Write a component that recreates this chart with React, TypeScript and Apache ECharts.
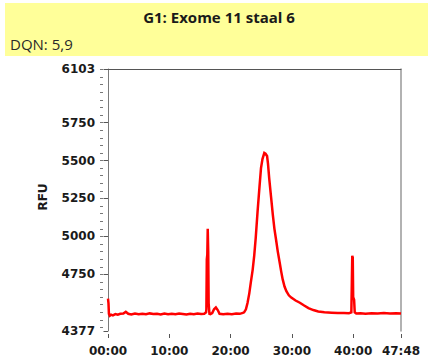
import React, { useEffect, useRef } from "react";
import * as echarts from "echarts";

// Electropherogram trace: run time (minutes) vs. fluorescence (RFU)
const timeMin: number[] = [
  0.0, 0.08, 0.15, 0.3, 0.5, 0.8, 1.2, 1.6, 2.0, 2.5, 2.9, 3.3, 3.8, 4.4, 5.0, 5.6, 6.2, 6.8,
  7.4, 8.0, 8.6, 9.2, 9.8, 10.4, 11.0, 11.6, 12.2, 12.8, 13.4, 14.0, 14.6, 15.2, 15.7, 16.0,
  16.05, 16.12, 16.2, 16.27, 16.35, 16.42, 16.55, 16.7, 17.0, 17.3, 17.6, 17.9, 18.2, 18.8,
  19.5, 20.2, 20.9, 21.5, 22.0, 22.2, 22.5, 22.76, 23.05, 23.3, 23.6, 23.85, 24.1, 24.4, 24.7,
  24.96, 25.2, 25.5, 25.7, 25.95, 26.1, 26.3, 26.6, 26.9, 27.15, 27.4, 27.7, 28.0, 28.25, 28.5,
  28.8, 29.1, 29.5, 29.9, 30.6, 31.3, 32.0, 32.7, 33.5, 34.3, 35.3, 36.5, 37.5, 38.5, 39.3,
  39.7, 39.78, 39.85, 39.93, 40.0, 40.15, 40.25, 40.5, 41.2, 42.0, 43.0, 44.0, 45.0, 46.0,
  47.0, 47.8,
];

const rfu: number[] = [
  4590, 4560, 4490, 4478, 4485, 4480, 4488, 4484, 4490, 4492, 4503, 4490, 4486, 4492, 4488,
  4491, 4487, 4493, 4489, 4490, 4486, 4492, 4488, 4491, 4487, 4492, 4489, 4486, 4491, 4488,
  4492, 4489, 4491, 4500, 4520, 4850, 4880, 5050, 4900, 4560, 4490, 4488, 4495, 4520, 4532,
  4515, 4490, 4487, 4491, 4488, 4492, 4490, 4496, 4500, 4520, 4561, 4625, 4697, 4780, 4872,
  4990, 5163, 5320, 5450, 5510, 5550, 5545, 5530, 5480, 5383, 5260, 5139, 5050, 4983, 4900,
  4830, 4770, 4717, 4670, 4639, 4612, 4597, 4578, 4563, 4545, 4528, 4515, 4506, 4500, 4497,
  4495, 4496, 4494, 4500, 4700, 4872, 4860, 4600, 4583, 4500, 4492, 4494, 4491, 4494, 4492,
  4495, 4492, 4494, 4492,
];

const yMin = 4377;
const yMax = 6103;
const yLabelValues: number[] = [4377, 4750, 5000, 5250, 5500, 5750, 6103];
const yMinorTickValues: number[] = [];
for (let v = 4400; v <= 6100; v += 50) yMinorTickValues.push(v);

const xMax = 47.8;
const xLabelValues: number[] = [0, 10, 20, 30, 40, 47.8];

const titleText = "G1: Exome 11 staal 6";
const subtitleText = "DQN: 5,9";
const yAxisTitle = "RFU";

const fontFamily = "'DejaVu Sans', Verdana, sans-serif";
const labelColor = "#1a1a1a";
const frameColor = "#7a7a7a";

function fmtTime(min: number): string {
  const totalSec = Math.round(min * 60);
  const m = Math.floor(totalSec / 60);
  const s = totalSec % 60;
  return `${String(m).padStart(2, "0")}:${String(s).padStart(2, "0")}`;
}

export default function App() {
  const ref = useRef<HTMLDivElement>(null);

  useEffect(() => {
    if (!ref.current) return;
    const chart = echarts.init(ref.current, undefined, { renderer: "svg" });
    const data = timeMin.map((t, i) => [t, rfu[i]]);

    const gridBox = { left: 108, top: 69, right: 27, bottom: 33 };

    chart.setOption({
      animation: false,
      backgroundColor: "#ffffff",
      grid: { ...gridBox, containLabel: false },
      graphic: [
        {
          type: "rect",
          shape: { x: 5, y: 3, width: 423, height: 53 },
          style: { fill: "#ffff99" },
          silent: true,
          z: -10,
        },
        {
          type: "text",
          x: 219,
          y: 17,
          style: {
            text: titleText,
            fill: labelColor,
            font: `bold 15px 'Open Sans', sans-serif`,
            align: "center",
            verticalAlign: "middle",
          },
        },
        {
          type: "text",
          x: 10,
          y: 44,
          style: {
            text: subtitleText,
            fill: "#2a2a2a",
            font: `15px 'Open Sans', sans-serif`,
            align: "left",
            verticalAlign: "middle",
          },
        },
        {
          type: "text",
          x: 43,
          y: 197,
          rotation: Math.PI / 2,
          style: {
            text: yAxisTitle,
            fill: labelColor,
            font: `bold 12px ${fontFamily}`,
            align: "center",
            verticalAlign: "middle",
          },
        },
      ],
      xAxis: [
        {
          type: "value",
          min: 0,
          max: xMax,
          position: "bottom",
          offset: 3,
          axisLine: { show: false },
          splitLine: { show: false },
          axisTick: {
            show: true,
            customValues: xLabelValues,
            length: 4,
            lineStyle: { color: "#555" },
          },
          axisLabel: {
            customValues: xLabelValues,
            formatter: (v: number) => fmtTime(v),
            margin: 11,
            color: labelColor,
            fontFamily,
            fontWeight: "bold",
            fontSize: 12,
            showMinLabel: true,
            showMaxLabel: true,
          },
        },
        {
          type: "value",
          min: 0,
          max: xMax,
          position: "top",
          axisLine: { show: true, lineStyle: { color: "#555", width: 1 } },
          axisTick: { show: false },
          axisLabel: { show: false },
          splitLine: { show: false },
        },
      ],
      yAxis: [
        {
          type: "value",
          min: yMin,
          max: yMax,
          position: "left",
          axisLine: { show: true, lineStyle: { color: frameColor, width: 1 } },
          axisTick: { show: false },
          axisLabel: { show: false },
          splitLine: { show: false },
        },
        {
          type: "value",
          min: yMin,
          max: yMax,
          position: "left",
          offset: 5,
          axisLine: { show: false },
          splitLine: { show: false },
          axisTick: {
            show: true,
            customValues: yLabelValues,
            length: 4.5,
            lineStyle: { color: "#555" },
          },
          axisLabel: {
            customValues: yLabelValues,
            formatter: (v: number) => String(v),
            margin: 8,
            color: labelColor,
            fontFamily,
            fontWeight: "bold",
            fontSize: 12,
            showMinLabel: true,
            showMaxLabel: true,
          },
        },
        {
          type: "value",
          min: yMin,
          max: yMax,
          position: "left",
          offset: 5,
          axisLine: { show: false },
          splitLine: { show: false },
          axisTick: {
            show: true,
            customValues: yMinorTickValues,
            length: 3,
            lineStyle: { color: "#777" },
          },
          axisLabel: { show: false },
        },
        {
          type: "value",
          min: yMin,
          max: yMax,
          position: "right",
          axisLine: { show: true, lineStyle: { color: "#999", width: 1.5 } },
          axisTick: { show: false },
          axisLabel: { show: false },
          splitLine: { show: false },
        },
      ],
      series: [
        {
          type: "line",
          xAxisIndex: 0,
          yAxisIndex: 0,
          data,
          showSymbol: false,
          symbol: "none",
          lineStyle: { color: "#ff0000", width: 2.5, join: "miter" },
          silent: true,
        },
      ],
    });

    return () => chart.dispose();
  }, []);

  return (
    <div style={{ position: "fixed", left: 0, top: 0, width: 428, height: 364, background: "#fff" }}>
      <div ref={ref} style={{ width: 428, height: 364 }} />
    </div>
  );
}
